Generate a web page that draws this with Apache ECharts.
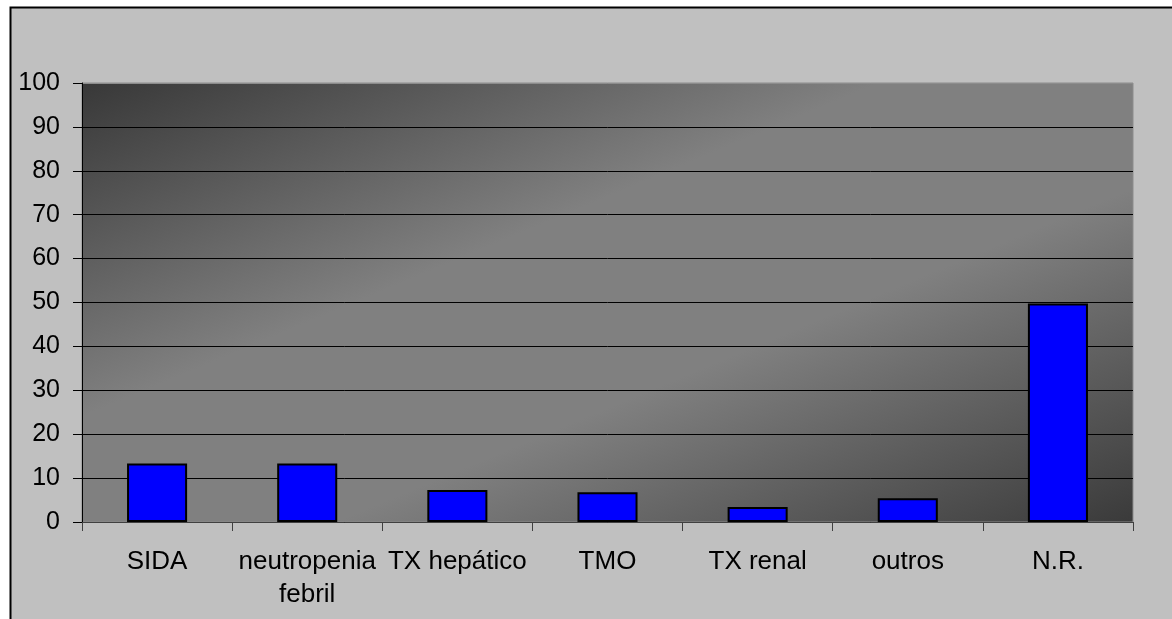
<!DOCTYPE html>
<html>
<head>
<meta charset="utf-8">
<script src="https://cdn.jsdelivr.net/npm/echarts@6/dist/echarts.min.js"></script>
<style>
  html, body { margin: 0; padding: 0; background: #ffffff; }
  #chart { width: 1172px; height: 619px; }
</style>
</head>
<body>
<div id="chart"></div>
<script>
// Categories and values
const categories = ['SIDA', 'neutropenia\nfebril', 'TX hepático', 'TMO', 'TX renal', 'outros', 'N.R.'];
const values = [13.3, 13.3, 7.3, 6.8, 3.4, 5.4, 49.8];
const yMin = 0;
const yMax = 100;
const yStep = 10;

const chart = echarts.init(document.getElementById('chart'), null, { renderer: 'canvas' });

const font = 'Arial, "Liberation Sans", sans-serif';

// grid lines are black; the top one doubles as the plot frame and is grey
const splitColors = [];
for (let v = yMin; v <= yMax; v += yStep) {
  splitColors.push(v === yMax ? '#8c8c8c' : '#000000');
}

chart.setOption({
  animation: false,
  backgroundColor: '#ffffff',
  graphic: [{
    type: 'rect',
    z: -10,
    silent: true,
    shape: { x: 10.5, y: 7.5, width: 1200, height: 700 },
    style: { fill: '#c0c0c0', stroke: '#000000', lineWidth: 2 }
  }],
  grid: {
    left: 82,
    right: 39,
    top: 83,
    bottom: 97,
    show: true,
    borderWidth: 1,
    borderColor: '#8c8c8c',
    // diagonal shading: dark corners top-left and bottom-right, light band between
    backgroundColor: new echarts.graphic.LinearGradient(0.351, -0.351, 0.649, 1.351, [
      { offset: 0, color: '#383838' },
      { offset: 0.38, color: '#808080' },
      { offset: 0.62, color: '#808080' },
      { offset: 1, color: '#3a3a3a' }
    ])
  },
  xAxis: {
    type: 'category',
    data: categories,
    axisLine: { lineStyle: { color: '#404040', width: 1 } },
    axisTick: { show: true, alignWithLabel: false, length: 9, lineStyle: { color: '#404040' } },
    axisLabel: {
      color: '#000000',
      fontFamily: font,
      fontSize: 26,
      margin: 23,
      lineHeight: 33,
      interval: 0
    },
    splitLine: { show: false }
  },
  yAxis: {
    type: 'value',
    min: yMin,
    max: yMax,
    interval: yStep,
    axisLine: { show: true, lineStyle: { color: '#000000', width: 1 } },
    axisTick: { show: true, length: 9, lineStyle: { color: '#000000' } },
    axisLabel: {
      color: '#000000',
      fontFamily: font,
      fontSize: 25,
      margin: 22
    },
    splitLine: { show: true, lineStyle: { color: splitColors, width: 1 } }
  },
  series: [{
    type: 'bar',
    data: values,
    barWidth: '40%',
    itemStyle: {
      color: '#0000ff',
      borderColor: '#000000',
      borderWidth: 2
    }
  }]
});
</script>
</body>
</html>
